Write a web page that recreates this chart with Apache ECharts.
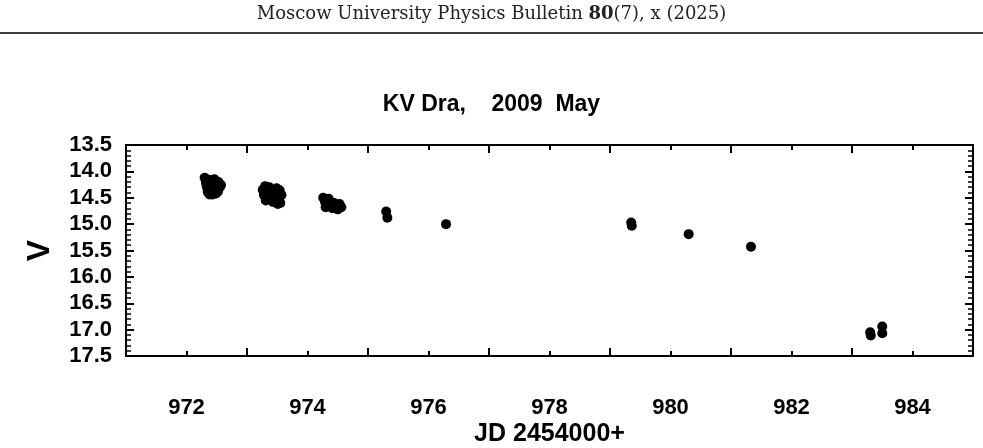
<!DOCTYPE html>
<html>
<head>
<meta charset="utf-8">
<script src="https://cdn.jsdelivr.net/npm/echarts@6/dist/echarts.min.js"></script>
<style>html,body{margin:0;padding:0;background:#fff}#chart{width:983px;height:448px}</style>
</head>
<body>
<div id="chart"></div>
<script>
// JD - 2454000, V magnitude
var jd = [
  972.30, 972.32, 972.34, 972.36, 972.38, 972.40, 972.42, 972.44, 972.46, 972.48, 972.50, 972.52, 972.55, 972.33, 972.37, 972.41, 972.45, 972.49, 972.53, 972.57, 972.35, 972.43, 972.51,
  973.26, 973.28, 973.31, 973.34, 973.37, 973.40, 973.43, 973.46, 973.49, 973.52, 973.55, 973.57, 973.30, 973.36, 973.42, 973.48, 973.54, 973.33, 973.45, 973.51,
  974.26, 974.29, 974.32, 974.35, 974.38, 974.41, 974.44, 974.47, 974.50, 974.53, 974.56, 974.30, 974.36, 974.42, 974.48,
  975.30, 975.32,
  976.29,
  979.35, 979.36,
  980.30,
  981.33,
  983.30, 983.31,
  983.50, 983.50
];
var mag = [
  14.12, 14.20, 14.30, 14.40, 14.44, 14.42, 14.35, 14.25, 14.15, 14.18, 14.28, 14.38, 14.30, 14.26, 14.16, 14.22, 14.34, 14.42, 14.20, 14.26, 14.38, 14.44, 14.30,
  14.35, 14.45, 14.55, 14.38, 14.30, 14.48, 14.58, 14.42, 14.32, 14.50, 14.60, 14.45, 14.28, 14.52, 14.40, 14.56, 14.36, 14.44, 14.50, 14.62,
  14.50, 14.58, 14.66, 14.52, 14.62, 14.70, 14.60, 14.68, 14.72, 14.62, 14.68, 14.68, 14.56, 14.64, 14.70,
  14.76, 14.88,
  15.00,
  14.97, 15.03,
  15.19,
  15.43,
  17.05, 17.11,
  16.94, 17.07
];
var xTicks = [972, 974, 976, 978, 980, 982, 984];

var points = jd.map(function (x, i) { return [x, mag[i]]; });

var bold = { fontFamily: 'Liberation Sans', fontWeight: 'bold', color: '#000' };
var axisLine = { show: true, onZero: false, lineStyle: { color: '#000', width: 2 } };

var chart = echarts.init(document.getElementById('chart'));
chart.setOption({
  animation: false,
  grid: { left: 126, right: 10, top: 145, bottom: 91 },
  title: {
    text: 'KV Dra,    2009  May', left: 'center', top: 88,
    textStyle: Object.assign({ fontSize: 23 }, bold)
  },
  graphic: [
    { type: 'text', left: 'center', top: 5, style: {
      text: '{n|Moscow University Physics Bulletin }{b|80}{n|(7), x (2025)}',
      rich: {
        n: { fontFamily: 'DejaVu Serif', fontSize: 18, fill: '#222' },
        b: { fontFamily: 'DejaVu Serif', fontSize: 18, fontWeight: 'bold', fill: '#222' }
      } } },
    { type: 'line', shape: { x1: 0, y1: 33, x2: 983, y2: 33 }, style: { stroke: '#000', lineWidth: 1.5 } }
  ],
  xAxis: [{
    type: 'value', min: 971, max: 985, interval: 2,
    name: 'JD 2454000+', nameLocation: 'middle', nameGap: 66,
    nameTextStyle: Object.assign({ fontSize: 25 }, bold),
    axisLine: axisLine,
    axisTick: { inside: true, length: 8, lineStyle: { width: 2, color: '#000' } },
    minorTick: { show: true, splitNumber: 2, length: 5, lineStyle: { width: 2, color: '#000' } },
    axisLabel: Object.assign({ fontSize: 22, margin: 41, customValues: xTicks }, bold),
    splitLine: { show: false }
  }, {
    type: 'value', min: 971, max: 985, interval: 2, position: 'top',
    axisLine: axisLine,
    axisTick: { inside: true, length: 8, lineStyle: { width: 2, color: '#000' } },
    minorTick: { show: true, splitNumber: 2, length: 5, lineStyle: { width: 2, color: '#000' } },
    axisLabel: { show: false }, splitLine: { show: false }
  }],
  yAxis: [{
    type: 'value', min: 13.5, max: 17.5, interval: 0.5, inverse: true,
    name: 'V', nameLocation: 'middle', nameGap: 70, nameRotate: 90,
    nameTextStyle: Object.assign({ fontSize: 32 }, bold),
    axisLine: axisLine,
    axisTick: { inside: true, length: 8, lineStyle: { width: 2, color: '#000' } },
    minorTick: { show: true, splitNumber: 5, length: 5, lineStyle: { width: 1.5, color: '#000' } },
    axisLabel: Object.assign({ fontSize: 22, margin: 14, formatter: function (v) { return v.toFixed(1); } }, bold),
    splitLine: { show: false }
  }, {
    type: 'value', min: 13.5, max: 17.5, interval: 0.5, inverse: true, position: 'right',
    axisLine: axisLine,
    axisTick: { inside: true, length: 8, lineStyle: { width: 2, color: '#000' } },
    minorTick: { show: true, splitNumber: 5, length: 5, lineStyle: { width: 1.5, color: '#000' } },
    axisLabel: { show: false }, splitLine: { show: false }
  }],
  series: [{
    type: 'scatter', data: points, symbolSize: 10,
    itemStyle: { color: '#000', opacity: 1 }
  }]
});
</script>
</body>
</html>
